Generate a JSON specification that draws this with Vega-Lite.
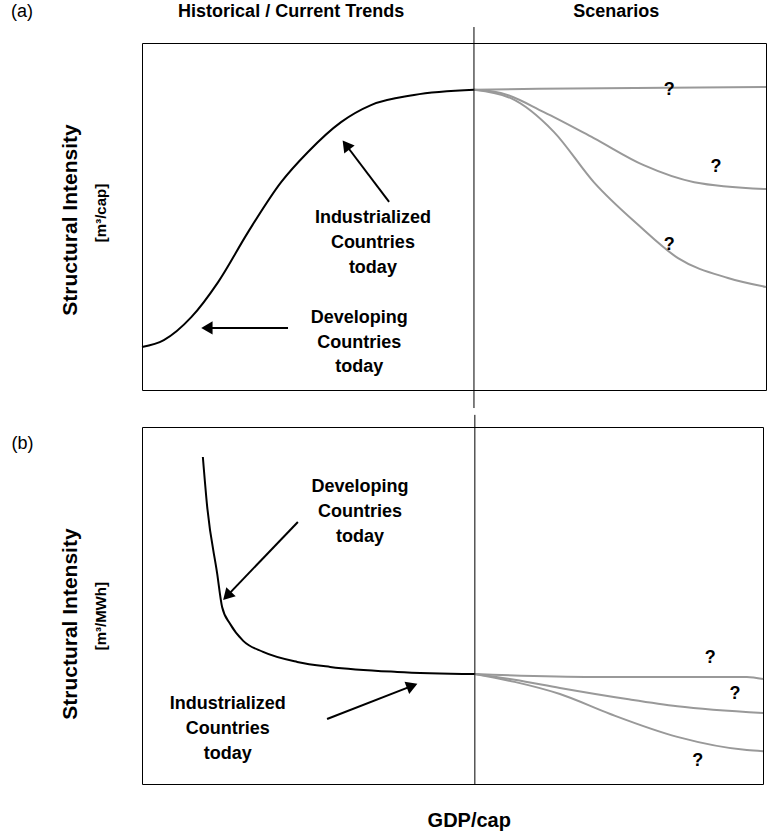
{
  "$schema": "https://vega.github.io/schema/vega-lite/v6.json",
  "padding": {"left": 10, "top": 2, "right": 2, "bottom": 0},
  "background": "white",
  "config": {"view": {"stroke": "black", "strokeWidth": 1}, "font": "Liberation Sans", "concat": {"spacing": 3}},
  "vconcat": [
    {
      "width": 624,
      "height": 347,
      "encoding": {
        "x": {"field": "x", "type": "quantitative", "scale": {"domain": [0, 100], "nice": false, "zero": false}, "axis": null},
        "y": {"field": "y", "type": "quantitative", "scale": {"domain": [0, 100], "nice": false, "zero": false}, "axis": null}
      },
      "layer": [
        {
          "data": {"values": [
            {"x": 0, "y": 12.4}, {"x": 3.5, "y": 14.4}, {"x": 7.9, "y": 21.0}, {"x": 12.2, "y": 31.1}, {"x": 17.0, "y": 45.5}, {"x": 22.3, "y": 59.9}, {"x": 26.6, "y": 68.6}, {"x": 31.9, "y": 77.2}, {"x": 36.7, "y": 82.1}, {"x": 43.6, "y": 85.0}, {"x": 53.2, "y": 86.5}
          ]},
          "mark": {"type": "line", "color": "black", "strokeWidth": 2, "interpolate": "monotone"}
        },
        {
          "data": {"values": [
            {"s": "flat", "x": 53.2, "y": 86.5}, {"s": "flat", "x": 63.5, "y": 86.8}, {"s": "flat", "x": 100, "y": 87.3},
            {"s": "mid", "x": 53.2, "y": 86.5}, {"s": "mid", "x": 57.5, "y": 85.6}, {"s": "mid", "x": 64.4, "y": 80.1}, {"s": "mid", "x": 72.4, "y": 72.6}, {"s": "mid", "x": 80.4, "y": 64.8}, {"s": "mid", "x": 88.5, "y": 59.9}, {"s": "mid", "x": 100, "y": 57.9},
            {"s": "low", "x": 53.2, "y": 86.5}, {"s": "low", "x": 59.1, "y": 84.1}, {"s": "low", "x": 66.0, "y": 74.4}, {"s": "low", "x": 72.4, "y": 59.9}, {"s": "low", "x": 79.5, "y": 47.6}, {"s": "low", "x": 85.9, "y": 38.0}, {"s": "low", "x": 93.9, "y": 32.3}, {"s": "low", "x": 100, "y": 29.7}
          ]},
          "mark": {"type": "line", "color": "#999999", "strokeWidth": 2, "interpolate": "monotone"},
          "encoding": {"detail": {"field": "s"}}
        },
        {
          "data": {"values": [{"x": 53.2, "y": -5.2, "y2": 104.6}]},
          "mark": {"type": "rule", "color": "black", "strokeWidth": 1},
          "encoding": {"y2": {"field": "y2"}}
        },
        {
          "data": {"values": [
            {"x": 39.6, "y": 54.2, "x2": 32.7, "y2": 70.6},
            {"x": 23.4, "y": 17.9, "x2": 10.4, "y2": 17.9}
          ]},
          "mark": {"type": "rule", "color": "black", "strokeWidth": 2},
          "encoding": {"x2": {"field": "x2"}, "y2": {"field": "y2"}}
        },
        {
          "data": {"values": [{"x": 32.7, "y": 70.6, "a": 323}, {"x": 10.4, "y": 17.9, "a": 270}]},
          "mark": {"type": "point", "shape": "triangle-up", "filled": true, "color": "black", "size": 170, "opacity": 1},
          "encoding": {"angle": {"field": "a", "type": "quantitative", "scale": null}}
        },
        {
          "data": {"values": [
            {"x": 37.0, "y": 49.6, "t": "Industrialized"}, {"x": 37.0, "y": 42.4, "t": "Countries"}, {"x": 37.0, "y": 35.2, "t": "today"},
            {"x": 34.8, "y": 20.7, "t": "Developing"}, {"x": 34.8, "y": 13.5, "t": "Countries"}, {"x": 34.8, "y": 6.6, "t": "today"},
            {"x": 84.5, "y": 86.5, "t": "?"}, {"x": 92, "y": 64.3, "t": "?"}, {"x": 84.5, "y": 41.8, "t": "?"}
          ]},
          "mark": {"type": "text", "fontSize": 18, "fontWeight": "bold", "align": "center", "baseline": "middle"},
          "encoding": {"text": {"field": "t"}}
        },
        {
          "data": {"values": [
            {"x": 23.9, "y": 108.9, "t": "Historical / Current Trends"}, {"x": 76, "y": 108.9, "t": "Scenarios"}
          ]},
          "mark": {"type": "text", "fontSize": 18, "fontWeight": "bold", "align": "center", "baseline": "middle"},
          "encoding": {"text": {"field": "t"}}
        },
        {
          "data": {"values": [{"x": -21, "y": 108.9, "t": "(a)"}]},
          "mark": {"type": "text", "fontSize": 18, "align": "left", "baseline": "middle"},
          "encoding": {"text": {"field": "t"}}
        },
        {
          "data": {"values": [{"x": -11.4, "y": 49, "t": "Structural Intensity"}]},
          "mark": {"type": "text", "fontSize": 21, "fontWeight": "bold", "angle": 270, "align": "center", "baseline": "middle"},
          "encoding": {"text": {"field": "t"}}
        },
        {
          "data": {"values": [{"x": -6.6, "y": 51, "t": "[m³/cap]"}]},
          "mark": {"type": "text", "fontSize": 15, "fontWeight": "bold", "angle": 270, "align": "center", "baseline": "middle"},
          "encoding": {"text": {"field": "t"}}
        }
      ]
    },
    {
      "width": 621,
      "height": 357,
      "encoding": {
        "x": {"field": "x", "type": "quantitative", "scale": {"domain": [0, 100], "nice": false, "zero": false}, "axis": null},
        "y": {"field": "y", "type": "quantitative", "scale": {"domain": [0, 100], "nice": false, "zero": false}, "axis": null}
      },
      "layer": [
        {
          "data": {"values": [
            {"x": 9.8, "y": 91.6}, {"x": 10.5, "y": 77.6}, {"x": 12.1, "y": 59.0}, {"x": 12.9, "y": 49.6}, {"x": 14.2, "y": 44.8}, {"x": 16.3, "y": 40.1}, {"x": 19.5, "y": 37.0}, {"x": 25, "y": 34.2}, {"x": 30.3, "y": 32.8}, {"x": 41.1, "y": 31.4}, {"x": 53.6, "y": 30.8}
          ]},
          "mark": {"type": "line", "color": "black", "strokeWidth": 2, "interpolate": "monotone"}
        },
        {
          "data": {"values": [
            {"s": "flat", "x": 53.6, "y": 30.8}, {"s": "flat", "x": 72.6, "y": 30}, {"s": "flat", "x": 97.4, "y": 30}, {"s": "flat", "x": 100, "y": 29.4},
            {"s": "mid", "x": 53.6, "y": 30.8}, {"s": "mid", "x": 60, "y": 29.2}, {"s": "mid", "x": 67.3, "y": 26.9}, {"s": "mid", "x": 78.1, "y": 23.8}, {"s": "mid", "x": 86.2, "y": 21.8}, {"s": "mid", "x": 100, "y": 19.9},
            {"s": "low", "x": 53.6, "y": 30.8}, {"s": "low", "x": 60, "y": 28.6}, {"s": "low", "x": 67.3, "y": 25.2}, {"s": "low", "x": 75.4, "y": 19.6}, {"s": "low", "x": 86.2, "y": 13.2}, {"s": "low", "x": 97.4, "y": 9.5}, {"s": "low", "x": 100, "y": 9.2}
          ]},
          "mark": {"type": "line", "color": "#999999", "strokeWidth": 2, "interpolate": "monotone"},
          "encoding": {"detail": {"field": "s"}}
        },
        {
          "data": {"values": [{"x": 53.6, "y": 0, "y2": 103.4}]},
          "mark": {"type": "rule", "color": "black", "strokeWidth": 1},
          "encoding": {"y2": {"field": "y2"}}
        },
        {
          "data": {"values": [
            {"x": 25.1, "y": 73.4, "x2": 13.7, "y2": 52.7},
            {"x": 29.8, "y": 18.2, "x2": 43.5, "y2": 27.5}
          ]},
          "mark": {"type": "rule", "color": "black", "strokeWidth": 2},
          "encoding": {"x2": {"field": "x2"}, "y2": {"field": "y2"}}
        },
        {
          "data": {"values": [{"x": 13.7, "y": 52.7, "a": 224}, {"x": 43.5, "y": 27.5, "a": 69}]},
          "mark": {"type": "point", "shape": "triangle-up", "filled": true, "color": "black", "size": 170, "opacity": 1},
          "encoding": {"angle": {"field": "a", "type": "quantitative", "scale": null}}
        },
        {
          "data": {"values": [
            {"x": 35.1, "y": 83.2, "t": "Developing"}, {"x": 35.1, "y": 76.2, "t": "Countries"}, {"x": 35.1, "y": 69.2, "t": "today"},
            {"x": 13.8, "y": 22.4, "t": "Industrialized"}, {"x": 13.8, "y": 15.4, "t": "Countries"}, {"x": 13.8, "y": 8.4, "t": "today"},
            {"x": 91.5, "y": 35.3, "t": "?"}, {"x": 95.5, "y": 25.2, "t": "?"}, {"x": 89.5, "y": 6.4, "t": "?"}
          ]},
          "mark": {"type": "text", "fontSize": 18, "fontWeight": "bold", "align": "center", "baseline": "middle"},
          "encoding": {"text": {"field": "t"}}
        },
        {
          "data": {"values": [{"x": -21, "y": 95.2, "t": "(b)"}]},
          "mark": {"type": "text", "fontSize": 18, "align": "left", "baseline": "middle"},
          "encoding": {"text": {"field": "t"}}
        },
        {
          "data": {"values": [{"x": -11.4, "y": 44.8, "t": "Structural Intensity"}]},
          "mark": {"type": "text", "fontSize": 21, "fontWeight": "bold", "angle": 270, "align": "center", "baseline": "middle"},
          "encoding": {"text": {"field": "t"}}
        },
        {
          "data": {"values": [{"x": -6.6, "y": 47, "t": "[m³/MWh]"}]},
          "mark": {"type": "text", "fontSize": 15, "fontWeight": "bold", "angle": 270, "align": "center", "baseline": "middle"},
          "encoding": {"text": {"field": "t"}}
        },
        {
          "data": {"values": [{"x": 52.7, "y": -10.4, "t": "GDP/cap"}]},
          "mark": {"type": "text", "fontSize": 20, "fontWeight": "bold", "align": "center", "baseline": "middle"},
          "encoding": {"text": {"field": "t"}}
        }
      ]
    }
  ]
}
